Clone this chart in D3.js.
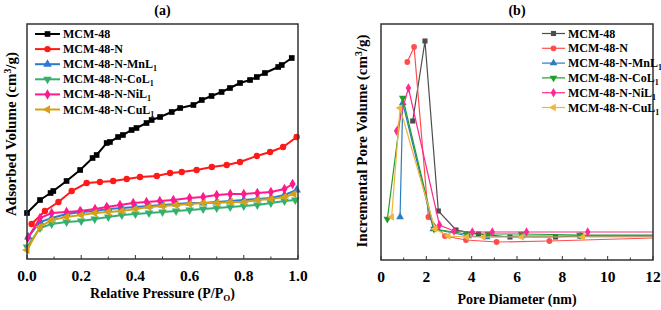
<!DOCTYPE html>
<html>
<head>
<meta charset="utf-8">
<script src="https://cdn.jsdelivr.net/npm/d3@7"></script>
<style>
  body { margin: 0; background: #fff; }
  svg { display: block; font-family: "Liberation Serif", "Times New Roman", serif; font-weight: bold; }
</style>
</head>
<body>
<svg id="chart" width="661" height="310"></svg>
<script>
// ---- data (a): N2 isotherms, [P/P0, volume] ----
const isoNames = ["MCM-48", "MCM-48-N", "MCM-48-N-MnL", "MCM-48-N-CoL", "MCM-48-N-NiL", "MCM-48-N-CuL"];
const isoMCM48 = [[0,46],[0.048,59],[0.087,66],[0.097,68],[0.146,78],[0.196,89],[0.242,101],[0.257,104],[0.294,116],[0.306,117],[0.336,122],[0.354,124],[0.386,129],[0.404,131],[0.441,136],[0.460,139],[0.491,142],[0.534,147],[0.565,151],[0.614,154],[0.645,159],[0.681,163],[0.718,167],[0.749,171],[0.786,176],[0.823,179],[0.848,182],[0.878,186],[0.927,192],[0.940,194],[0.977,201]];
const isoN = [[0.017,35],[0.066,48],[0.116,57],[0.165,68],[0.220,76],[0.269,77],[0.318,78],[0.368,80],[0.417,82],[0.479,83],[0.528,86],[0.571,87],[0.626,89],[0.682,92],[0.737,94],[0.786,97],[0.848,103],[0.897,107],[0.945,112],[0.995,122]];
const isoMn = [[0.005,22],[0.048,37],[0.091,41],[0.146,45],[0.2,47],[0.25,48],[0.3,50],[0.35,51],[0.4,52],[0.45,53],[0.5,54],[0.55,55],[0.6,56],[0.65,56],[0.7,57],[0.75,58],[0.8,59],[0.85,60],[0.9,61],[0.95,64],[0.995,69]];
const isoCo = [[0.0,12],[0.048,31],[0.091,35],[0.146,37],[0.2,38],[0.25,40],[0.3,42],[0.35,44],[0.4,45],[0.45,46],[0.5,47],[0.55,48],[0.6,49],[0.65,50],[0.7,51],[0.75,52],[0.8,53],[0.85,54],[0.9,56],[0.95,58],[0.99,59]];
const isoNi = [[0.003,21],[0.048,41],[0.091,46],[0.146,47],[0.196,48],[0.251,50],[0.294,52],[0.343,54],[0.392,56],[0.441,57],[0.490,58],[0.540,59],[0.600,61],[0.650,62],[0.700,64],[0.750,65],[0.800,65],[0.850,66],[0.900,67],[0.950,70],[0.980,75]];
const isoCu = [[0.0,9],[0.048,32],[0.091,39],[0.146,42],[0.2,44],[0.25,46],[0.3,47],[0.35,48],[0.4,50],[0.45,52],[0.5,53],[0.55,54],[0.6,55],[0.65,56],[0.7,56],[0.75,57],[0.8,57],[0.85,59],[0.9,60],[0.95,62],[0.985,65]];

// ---- data (b): pore size distribution, [diameter nm, volume] ----
const psdMCM48 = [[1.40,139],[1.94,219],[2.53,49],[3.31,30],[4.3,26],[5.69,23],[7.7,23],[8.78,24],[12,24]];
const psdN = [[1.16,198],[1.46,213],[2.09,43],[2.82,24],[3.75,20],[5.1,18],[7.43,19],[12,22]];
const psdMn = [[0.84,43],[0.96,157],[2.31,31],[3.85,24],[4.66,23],[6.2,24],[8.8,24],[12,24]];
const psdCo = [[0.28,41],[0.96,162],[2.34,31],[3.78,26],[4.73,26],[6.2,26],[8.78,25],[12,25]];
const psdNi = [[0.69,129],[1.21,172],[2.58,35],[3.22,29],[4.03,28],[4.91,28],[6.42,28],[9.12,28],[12,28]];
const psdCu = [[0.47,43],[0.84,152],[2.38,31],[2.97,24],[3.78,23],[4.52,23],[6.2,23],[8.9,23],[12,23]];

const xTicksA = [0, 0.2, 0.4, 0.6, 0.8, 1.0];
const xTicksB = [0, 2, 4, 6, 8, 10, 12];

const svg = d3.select("#chart");

const shapes = [
  { type: d3.symbolSquare, rot: 0 },
  { type: d3.symbolCircle, rot: 0 },
  { type: d3.symbolTriangle, rot: 0 },
  { type: d3.symbolTriangle, rot: 180 },
  { type: d3.symbolDiamond, rot: 0 },
  { type: d3.symbolTriangle, rot: -90 }
];

function panel(opt) {
  const x = d3.scaleLinear().domain(opt.xDomain).range([opt.x0, opt.x1]);
  const y = d3.scaleLinear().domain(opt.yDomain).range([opt.y1, opt.y0]);
  const g = svg.append("g");

  // series
  opt.series.forEach((s, i) => {
    const line = d3.line().x(d => x(d[0])).y(d => y(d[1]));
    g.append("path").datum(s)
      .attr("fill", "none")
      .attr("stroke", opt.colors[i])
      .attr("stroke-width", opt.lw)
      .attr("d", line);
    g.selectAll(null).data(s.filter(d => d[0] < opt.xDomain[1])).join("path")
      .attr("transform", d => `translate(${x(d[0])},${y(d[1])}) rotate(${shapes[i].rot})`)
      .attr("d", d3.symbol().type(shapes[i].type).size(opt.msize))
      .attr("fill", opt.colors[i]);
  });

  // frame
  g.append("rect")
    .attr("x", opt.x0).attr("y", opt.y0)
    .attr("width", opt.x1 - opt.x0).attr("height", opt.y1 - opt.y0)
    .attr("fill", "none").attr("stroke", "#333").attr("stroke-width", 1.5);

  // x ticks (inside)
  const minor = d3.range(opt.xDomain[0], opt.xDomain[1] + 1e-9, opt.minorStep);
  g.selectAll(null).data(minor).join("line")
    .attr("x1", d => x(d)).attr("x2", d => x(d))
    .attr("y1", opt.y1).attr("y2", d => opt.y1 - (opt.xTicks.some(t => Math.abs(t - d) < 1e-9) ? 4 : 2.5))
    .attr("stroke", "#333").attr("stroke-width", 1);

  g.selectAll(null).data(opt.xTicks).join("text")
    .attr("x", d => x(d)).attr("y", opt.y1 + 22)
    .attr("text-anchor", "middle")
    .attr("font-size", 15.5)
    .text(opt.fmt);

  // titles
  g.append("text").attr("x", (opt.x0 + opt.x1) / 2).attr("y", 15)
    .attr("text-anchor", "middle").attr("font-size", 14).text(opt.title);

  const xt = g.append("text").attr("x", (opt.x0 + opt.x1) / 2).attr("y", opt.xTitleY)
    .attr("text-anchor", "middle").attr("font-size", 14);
  opt.xTitle(xt);

  const yt = g.append("text")
    .attr("transform", `translate(${opt.yTitleX},${opt.yTitleY}) rotate(-90)`)
    .attr("text-anchor", "middle").attr("font-size", opt.yFont);
  yt.append("tspan").text(opt.yTitle + " (cm");
  yt.append("tspan").attr("font-size", opt.yFont * 0.65).attr("dy", -5).text("3");
  yt.append("tspan").attr("dy", 5).text("/g)");

  // legend
  const lg = g.append("g");
  isoNames.forEach((n, i) => {
    const ly = opt.legY + i * opt.legStep;
    lg.append("line").attr("x1", opt.legX).attr("x2", opt.legX + opt.legLen)
      .attr("y1", ly).attr("y2", ly)
      .attr("stroke", opt.colors[i]).attr("stroke-width", opt.lw);
    lg.append("path")
      .attr("transform", `translate(${opt.legX + opt.legLen / 2},${ly}) rotate(${shapes[i].rot})`)
      .attr("d", d3.symbol().type(shapes[i].type).size(opt.msize))
      .attr("fill", opt.colors[i]);
    const t = lg.append("text").attr("x", opt.legX + opt.legLen + 3).attr("y", ly + 4)
      .attr("font-size", 12);
    t.append("tspan").text(n);
    if (i >= 2) t.append("tspan").attr("font-size", 8).attr("dy", 3).text("1");
  });
}

panel({
  x0: 27, x1: 298, y0: 24, y1: 259,
  xDomain: [0, 1], yDomain: [0, 235],
  series: [isoMCM48, isoN, isoMn, isoCo, isoNi, isoCu],
  colors: ["#000000", "#ff1a1a", "#2a7ad0", "#33b070", "#ff1a8c", "#d4a017"],
  lw: 2, msize: 32,
  xTicks: xTicksA, minorStep: 0.1, fmt: d3.format(".1f"),
  title: "(a)",
  xTitleY: 298,
  xTitle: t => {
    t.append("tspan").text("Relative Pressure (P/P");
    t.append("tspan").attr("font-size", 9).attr("dy", 3).text("O");
    t.append("tspan").attr("dy", -3).text(")");
  },
  yTitle: "Adsorbed Volume", yTitleX: 16, yTitleY: 134, yFont: 15,
  legX: 35, legY: 34, legLen: 25, legStep: 15.1
});

panel({
  x0: 381, x1: 653, y0: 24, y1: 260,
  xDomain: [0, 12], yDomain: [0, 236],
  series: [psdMCM48, psdN, psdMn, psdCo, psdNi, psdCu],
  colors: ["#4d4d4d", "#ff4d4d", "#2a7dc0", "#1e9e2a", "#ff2a90", "#f2b43c"],
  lw: 1.2, msize: 26,
  xTicks: xTicksB, minorStep: 1, fmt: d3.format("d"),
  title: "(b)",
  xTitleY: 304,
  xTitle: t => t.text("Pore Diameter (nm)"),
  yTitle: "Incremental Pore Volume", yTitleX: 367, yTitleY: 141, yFont: 15,
  legX: 542, legY: 33.5, legLen: 23, legStep: 14.8
});
</script>
</body>
</html>
